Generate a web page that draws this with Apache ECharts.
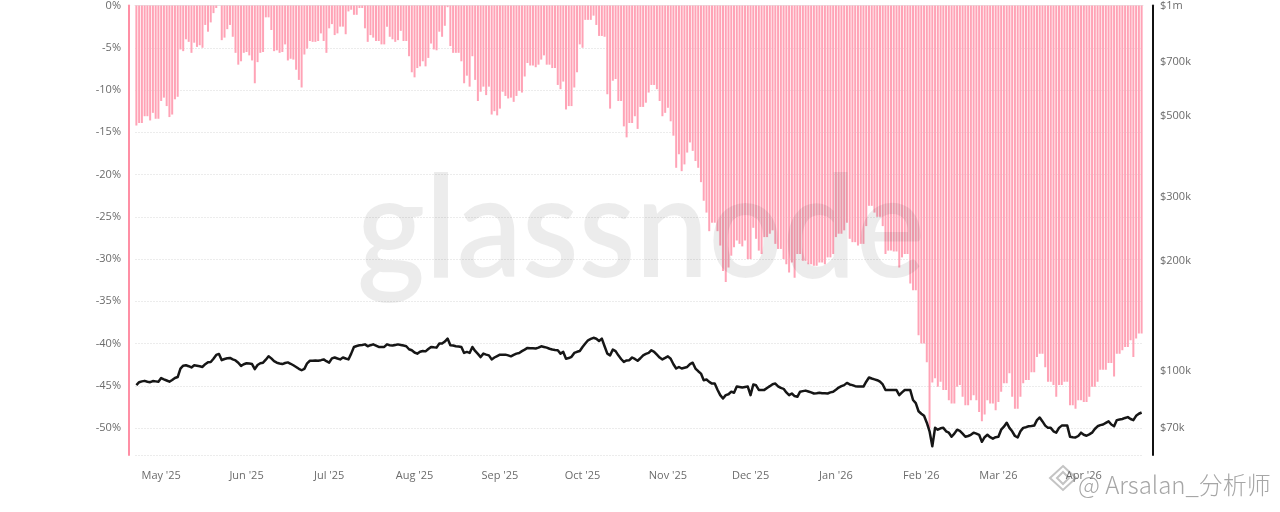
<!DOCTYPE html>
<html>
<head>
<meta charset="utf-8">
<script src="https://cdn.jsdelivr.net/npm/echarts@6/dist/echarts.min.js"></script>
<style>
html,body{margin:0;padding:0;background:#fff;}
#chart{width:1280px;height:512px;}
</style>
</head>
<body>
<div id="chart"></div>
<script>
// ---- DATA ----
const startDate = '2025-04-22';           // first daily category
const monthNames = ['Jan','Feb','Mar','Apr','May','Jun','Jul','Aug','Sep','Oct','Nov','Dec'];
const leftTicks = [0,-5,-10,-15,-20,-25,-30,-35,-40,-45,-50];               // %
const rightTicks = [70,100,200,300,500,700,1000];                           // $k

// drawdown from ATH (%), one value per day
const drawdown = [
-14.2,-13.9,-13.9,-13.1,-13.1,-13.6,-12.7,-13.4,-13.4,-11.3,
-10.9,-11.9,-13.2,-12.9,-11.1,-10.8,-5.2,-5.4,-4.0,-4.3,
-5.6,-4.4,-4.9,-4.7,-5.0,-2.3,-3.1,-2.0,-0.9,-0.3,
0,-4.1,-3.8,-2.8,-2.3,-3.7,-5.6,-7.0,-6.6,-5.6,
-5.5,-5.9,-6.5,-9.2,-6.7,-5.6,-5.5,-1.4,-1.4,-2.9,
-5.4,-5.3,-5.6,-5.5,-4.6,-6.5,-6.3,-6.4,-7.6,-8.8,
-9.7,-5.8,-5.1,-4.2,-4.3,-4.3,-4.2,-3.3,-4.2,-5.6,
-2.7,-2.2,-3.5,-3.3,-2.5,-2.5,-3.4,-0.7,-0.5,-1.1,
-1.1,-0.3,-0.3,-2.7,-4.3,-3.5,-3.8,-4.2,-4.2,-4.6,
-4.6,-2.5,-3.7,-4.0,-4.3,-4.1,-3.0,-4.2,-4.2,-6.0,
-7.9,-8.5,-7.4,-7.2,-6.6,-7.2,-6.2,-4.5,-5.2,-5.3,
-3.1,-3.7,-2.4,-0.2,-4.8,-5.6,-5.6,-5.6,-6.6,-9.2,
-8.3,-9.6,-6.0,-8.8,-11.3,-10.2,-9.6,-10.6,-9.6,-12.9,
-12.5,-13.0,-12.2,-10.2,-10.7,-11.0,-10.9,-11.4,-10.7,-10.1,
-10.3,-8.4,-6.8,-7.1,-7.1,-7.3,-7.0,-6.4,-5.9,-7.0,
-7.0,-7.4,-7.4,-9.4,-9.9,-9.0,-12.3,-11.9,-11.9,-9.7,
-7.9,-4.6,-5.0,-1.7,-1.7,-1.7,-1.2,-2.3,-3.6,-3.6,
-3.7,-10.5,-12.2,-8.9,-8.7,-11.3,-11.3,-14.3,-15.6,-13.9,
-13.9,-13.1,-14.6,-12.0,-12.0,-11.5,-10.3,-9.4,-9.4,-9.9,
-11.3,-13.1,-12.7,-12.1,-13.7,-15.4,-19.2,-17.6,-19.6,-18.8,
-17.4,-16.2,-17.2,-18.4,-19.2,-20.9,-23.1,-24.5,-26.7,-25.7,
-25.7,-26.7,-28.4,-31.4,-32.7,-31.0,-29.6,-28.6,-27.8,-28.2,
-28.5,-27.8,-30.0,-30.0,-26.3,-27.6,-29.0,-29.4,-27.4,-27.4,
-27.0,-26.6,-28.2,-28.8,-28.8,-30.0,-30.6,-31.6,-30.4,-32.2,
-29.4,-29.4,-30.2,-30.2,-30.6,-30.6,-30.8,-30.8,-30.4,-30.4,
-30.6,-29.8,-29.8,-29.4,-27.4,-27.0,-27.0,-26.6,-25.7,-27.6,
-28.0,-28.0,-28.4,-28.2,-28.2,-26.1,-23.7,-23.7,-24.5,-25.0,
-25.0,-26.1,-29.4,-29.0,-29.0,-29.1,-29.1,-31.0,-29.8,-29.4,
-29.4,-32.9,-33.7,-33.7,-39.0,-40.0,-40.0,-42.2,-50.0,-44.6,
-44.1,-45.1,-44.5,-45.5,-45.5,-46.7,-47.1,-47.1,-45.1,-44.9,
-46.3,-47.3,-47.3,-46.7,-46.1,-46.7,-48.1,-49.2,-48.4,-46.7,
-47.1,-47.1,-47.9,-46.9,-45.7,-44.7,-44.7,-43.5,-46.3,-47.7,
-47.7,-46.3,-44.7,-44.3,-44.3,-43.4,-43.4,-41.6,-41.2,-41.2,
-42.8,-44.5,-44.5,-44.9,-46.3,-44.9,-44.9,-44.5,-44.5,-47.3,
-47.3,-47.7,-46.7,-46.7,-46.9,-46.9,-46.3,-45.1,-45.1,-44.5,
-43.1,-43.1,-43.1,-42.3,-42.3,-43.9,-41.2,-41.2,-40.8,-40.4,
-40.4,-39.6,-41.6,-39.4,-38.8,-38.8
];

// BTC price ($k), one value per day
const price = [
91.6,93.3,93.8,94.1,93.6,93.3,94.0,93.8,93.6,95.8,
95.0,94.3,93.6,94.6,95.8,96.4,101.7,103.5,103.8,103.2,
102.4,103.8,103.5,103.2,102.7,104.5,105.8,106.0,108.2,110.8,
111.5,107.2,108.0,108.5,108.7,107.7,107.0,105.5,103.4,104.5,
105.1,105.0,104.6,101.3,104.0,105.1,105.5,107.5,109.9,108.4,
106.5,105.5,105.0,104.6,105.3,105.7,104.8,103.8,102.7,101.5,
100.6,101.5,105.1,106.8,106.8,107.0,106.8,107.2,107.7,106.5,
105.5,108.4,109.0,108.3,107.7,109.0,108.3,107.7,111.7,116.5,
117.2,117.7,118.0,118.4,117.0,117.8,118.4,117.5,116.5,116.5,
116.5,118.4,117.8,117.5,118.0,118.4,118.0,117.5,117.0,114.8,
114.1,112.5,111.7,113.0,113.6,113.3,115.0,116.5,116.2,116.0,
119.0,119.0,120.5,122.8,117.7,117.5,117.0,116.8,116.5,112.2,
112.9,112.2,116.5,113.6,111.5,109.3,111.7,111.0,110.5,107.7,
109.0,110.0,111.0,111.0,111.0,110.5,109.8,110.8,111.7,112.2,
113.5,114.6,115.8,115.6,115.5,115.4,116.0,117.0,116.5,116.0,
115.2,114.6,114.3,114.1,111.7,112.9,108.2,108.6,109.5,112.2,
113.0,113.6,116.5,119.0,121.5,122.5,123.4,122.7,121.0,122.8,
117.0,111.7,110.5,114.6,113.5,110.5,108.0,106.0,107.0,107.2,
109.0,108.0,106.8,108.5,110.5,111.5,112.2,114.1,113.0,111.0,
109.0,107.7,108.7,109.8,108.2,104.5,101.7,102.7,101.7,102.2,
102.7,104.5,105.5,101.7,100.0,98.5,94.5,94.9,93.5,92.5,
92.5,89.0,86.0,84.2,86.0,86.5,87.9,87.3,90.8,90.5,
90.2,90.5,90.8,86.0,92.0,91.5,88.9,88.9,88.9,90.0,
91.0,92.1,92.5,90.9,90.0,89.5,87.5,86.0,86.9,85.5,
85.1,87.9,88.2,88.5,88.0,87.5,86.9,87.0,87.3,87.1,
87.0,86.9,87.5,87.9,89.0,90.2,91.0,91.6,92.9,92.0,
91.6,91.0,90.8,90.8,90.8,93.6,96.1,95.5,95.0,94.5,
93.6,92.0,88.8,88.8,88.8,88.8,88.8,86.0,87.5,88.8,
88.8,88.8,83.4,81.8,77.7,76.5,75.5,72.3,68.5,62.3,
70.0,69.2,69.8,70.0,68.5,67.9,66.2,67.5,69.2,68.7,
67.5,66.2,66.5,67.0,67.9,67.5,67.0,64.1,66.0,67.0,
66.0,65.4,66.0,66.2,69.2,70.5,72.3,70.0,68.5,66.5,
65.9,68.5,70.0,70.3,70.7,70.8,71.0,73.5,74.7,72.9,
71.0,70.0,70.0,68.5,67.9,70.0,71.0,71.0,71.0,66.2,
66.0,65.9,66.5,67.9,67.0,66.6,67.2,67.9,69.5,70.7,
71.2,71.5,72.2,72.9,71.5,70.7,73.5,73.8,74.0,74.5,
74.9,74.0,73.5,75.5,76.5,77.1
];

// ---- build categories (one per day) ----
const dates = [];
{
  const t0 = Date.parse(startDate + 'T00:00:00Z');
  for (let i = 0; i < price.length; i++) {
    dates.push(new Date(t0 + i * 86400000).toISOString().slice(0, 10));
  }
}
const isMonthStart = (idx, val) => val.slice(8, 10) === '01';

// horizontal squeeze so the watermark word spans the same width as in the reference
const wmFont = '600 142px Lato';
const wmScale = (function () {
  const c = document.createElement('canvas').getContext('2d');
  c.font = wmFont;
  const w = c.measureText('glassnode').width || 600;
  return 568 / w;
})();

const chart = echarts.init(document.getElementById('chart'), null, {renderer: 'canvas'});
const gray = '#6b6b6b';
const logoGray = '#c4c4c4';

chart.setOption({
  animation: false,
  backgroundColor: '#ffffff',
  grid: {left: 135, right: 137, top: 4, bottom: 57, containLabel: false},
  xAxis: {
    type: 'category',
    data: dates,
    boundaryGap: true,
    axisLine: {show: true, lineStyle: {color: '#e6e6e6', width: 1}},
    axisTick: {show: true, interval: isMonthStart, alignWithLabel: true, length: 5, lineStyle: {color: '#e0e0e0'}},
    axisLabel: {
      interval: isMonthStart,
      color: gray, fontSize: 11, margin: 15, fontFamily: 'Open Sans',
      formatter: v => monthNames[+v.slice(5, 7) - 1] + " '" + v.slice(2, 4)
    },
    splitLine: {show: false}
  },
  yAxis: [
    {
      type: 'value', inverse: true, min: 0, max: 53.18, interval: 5,
      position: 'left', offset: 6,
      axisLine: {show: true, lineStyle: {color: '#ff8fa5', width: 2}},
      axisTick: {show: false},
      axisLabel: {
        color: gray, fontSize: 11, fontFamily: 'Open Sans', margin: 8, showMaxLabel: false,
        formatter: v => leftTicks.indexOf(-v) >= 0 ? (v === 0 ? '0%' : '-' + v + '%') : ''
      },
      splitLine: {show: true, lineStyle: {color: '#ececec', width: 1, type: [2, 1]}}
    },
    {
      type: 'log', logBase: 10, min: 59, max: 1000,
      position: 'right', offset: 10,
      axisLine: {show: true, lineStyle: {color: '#111111', width: 2}},
      axisTick: {show: false, customValues: rightTicks},
      axisLabel: {
        customValues: rightTicks,
        color: gray, fontSize: 11, fontFamily: 'Open Sans', margin: 7,
        formatter: v => v >= 1000 ? '$' + (v / 1000) + 'm' : '$' + Math.round(v) + 'k'
      },
      splitLine: {show: false}
    }
  ],
  series: [
    {
      name: 'Drawdown', type: 'bar', yAxisIndex: 0,
      data: drawdown.map(v => -v),
      barWidth: 2,
      itemStyle: {color: '#ffa3b6'},
      z: 2
    },
    {
      name: 'Price', type: 'line', yAxisIndex: 1,
      data: price,
      showSymbol: false, symbol: 'none',
      lineStyle: {color: '#161616', width: 2.5, join: 'round'},
      z: 3
    }
  ],
  graphic: [
    {
      type: 'text', x: 357, y: 160, scaleX: wmScale, z: 10, silent: true,
      style: {text: 'glassnode', font: wmFont, fill: 'rgba(0,0,0,0.075)', verticalAlign: 'top'}
    },
    {
      type: 'text', x: 1078, y: 473, z: 10, silent: true,
      style: {text: '@ Arsalan_分析师', font: '300 24px "Noto Sans CJK SC"', fill: '#a6a6a6', verticalAlign: 'top'}
    },
    {
      type: 'group', x: 1050, y: 466, z: 10, silent: true,
      children: [
        {type: 'polygon', shape: {points: [[13, 0], [26, 12], [13, 24], [0, 12]]},
         style: {fill: 'none', stroke: logoGray, lineWidth: 2}},
        {type: 'polygon', shape: {points: [[13, 6], [19, 12], [13, 18], [7, 12]]},
         style: {fill: 'none', stroke: logoGray, lineWidth: 2}}
      ]
    }
  ]
});
</script>
</body>
</html>
